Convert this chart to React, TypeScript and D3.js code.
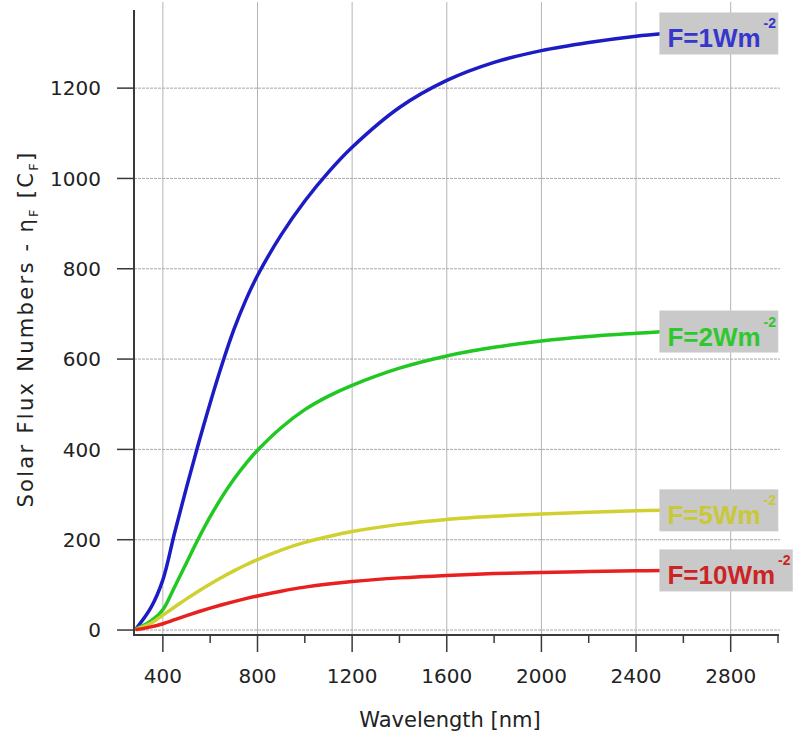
import React, { useEffect, useRef } from "react";
import * as d3 from "d3";

const wavelengths = [290, 350, 400, 450, 500, 550, 600, 650, 700, 750, 800, 900, 1000, 1100, 1200, 1400, 1600, 1800, 2000, 2200, 2400, 2520];
const fluxF1 = [5, 50, 111, 216, 316, 412, 503, 588, 665, 730, 785, 875, 950, 1014, 1069, 1157, 1217, 1257, 1283, 1301, 1315, 1321];
const fluxF2 = [3, 20, 45, 96, 149, 202, 251, 295, 334, 368, 398, 448, 488, 518, 542, 580, 607, 626, 640, 650, 657, 661];
const fluxF5 = [2, 15, 33, 51, 69, 86, 102, 117, 131, 144, 156, 177, 194, 207, 218, 234, 245, 252, 257, 261, 264, 265];
const fluxF10 = [1, 7, 14, 23, 32, 40.5, 48.5, 56, 63, 69.5, 75.5, 86, 95, 102, 107.5, 115.5, 121, 125, 127.5, 129.5, 131, 132];

const seriesLabels = ["F=1Wm", "F=2Wm", "F=5Wm", "F=10Wm"];
const seriesSup = "-2";
const xTicks = [400, 800, 1200, 1600, 2000, 2400, 2800];
const xMinorTicks = [600, 1000, 1400, 1800, 2200, 2600, 3000];
const yTicks = [0, 200, 400, 600, 800, 1000, 1200];

const lineColors = ["#1c1cc4", "#22c822", "#d0d030", "#e82020"];
const textColors = ["#3636cc", "#2ec82e", "#c8c838", "#cc2424"];

export default function App() {
  const ref = useRef<SVGSVGElement>(null);

  useEffect(() => {
    const svg = d3.select(ref.current);
    svg.selectAll("*").remove();

    const x = d3.scaleLinear().domain([278, 3000]).range([134, 778]);
    const y = d3.scaleLinear().domain([-11, 1373]).range([635, 10]);
    const font = "'DejaVu Sans', sans-serif";

    // grid
    const g = svg.append("g");
    g.selectAll("line.vg")
      .data(xTicks)
      .join("line")
      .attr("x1", (d) => x(d))
      .attr("x2", (d) => x(d))
      .attr("y1", 2)
      .attr("y2", 635)
      .attr("stroke", "#b4b4b4")
      .attr("stroke-width", 1);
    g.selectAll("line.hg")
      .data(yTicks)
      .join("line")
      .attr("x1", 134)
      .attr("x2", 780)
      .attr("y1", (d) => y(d))
      .attr("y2", (d) => y(d))
      .attr("stroke", "#a8a8a8")
      .attr("stroke-width", 1)
      .attr("stroke-dasharray", "3,1");

    // axes
    const ax = svg.append("g").attr("stroke", "#3a3a3a");
    ax.append("line").attr("x1", 134).attr("x2", 134).attr("y1", 10).attr("y2", 636).attr("stroke-width", 2);
    ax.append("line").attr("x1", 133).attr("x2", 779).attr("y1", 635).attr("y2", 635).attr("stroke-width", 2);
    ax.selectAll("line.yt")
      .data(yTicks)
      .join("line")
      .attr("x1", 117)
      .attr("x2", 134)
      .attr("y1", (d) => y(d))
      .attr("y2", (d) => y(d))
      .attr("stroke-width", 1.5);
    ax.selectAll("line.xt")
      .data(xTicks)
      .join("line")
      .attr("x1", (d) => x(d))
      .attr("x2", (d) => x(d))
      .attr("y1", 635)
      .attr("y2", 652)
      .attr("stroke-width", 1.5);
    ax.selectAll("line.xm")
      .data(xMinorTicks)
      .join("line")
      .attr("x1", (d) => x(d))
      .attr("x2", (d) => x(d))
      .attr("y1", 635)
      .attr("y2", 643)
      .attr("stroke-width", 1.5);

    svg
      .append("g")
      .selectAll("text")
      .data(yTicks)
      .join("text")
      .attr("x", 101)
      .attr("y", (d) => y(d))
      .attr("dy", "0.36em")
      .attr("text-anchor", "end")
      .attr("font-family", font)
      .attr("font-size", 20)
      .attr("fill", "#222")
      .text((d) => String(d));

    svg
      .append("g")
      .selectAll("text")
      .data(xTicks)
      .join("text")
      .attr("x", (d) => x(d))
      .attr("y", 683)
      .attr("text-anchor", "middle")
      .attr("font-family", font)
      .attr("font-size", 20)
      .attr("fill", "#222")
      .text((d) => String(d));

    // curves
    const series = [fluxF1, fluxF2, fluxF5, fluxF10];
    const line = d3
      .line<number>()
      .x((_, i) => x(wavelengths[i]))
      .y((d) => y(d))
      .curve(d3.curveCatmullRom.alpha(0.5));
    series.forEach((s, i) => {
      svg
        .append("path")
        .attr("d", line(s) as string)
        .attr("fill", "none")
        .attr("stroke", lineColors[i])
        .attr("stroke-width", 3.5)
        .attr("stroke-linecap", "round")
        .attr("stroke-linejoin", "round");
    });

    // labels
    series.forEach((s, i) => {
      const lx = x(wavelengths[wavelengths.length - 1]) - 5;
      const cy = y(s[s.length - 1]);
      const lg = svg.append("g");
      const rect = lg.append("rect").attr("fill", "#c9c9c9");
      const t = lg
        .append("text")
        .attr("x", lx + 8)
        .attr("y", cy + 14)
        .attr("font-family", "'Liberation Sans', Arial, sans-serif")
        .attr("font-weight", "bold")
        .attr("font-size", 26)
        .attr("fill", textColors[i]);
      t.append("tspan").text(seriesLabels[i]);
      t.append("tspan")
        .attr("font-size", 14)
        .attr("dx", 3)
        .attr("dy", -19)
        .text(seriesSup);
      const bb = (t.node() as SVGTextElement).getBBox();
      rect
        .attr("x", lx)
        .attr("y", cy - 21)
        .attr("width", bb.x + bb.width - lx + 2)
        .attr("height", 42);
    });

    // axis titles
    svg
      .append("text")
      .attr("x", 450)
      .attr("y", 727)
      .attr("text-anchor", "middle")
      .attr("font-family", font)
      .attr("font-size", 21)
      .attr("fill", "#222")
      .text("Wavelength [nm]");

    const yt = svg
      .append("text")
      .attr("transform", "translate(33,329) rotate(-90)")
      .attr("text-anchor", "middle")
      .attr("font-family", font)
      .attr("font-size", 21)
      .attr("letter-spacing", 2.3)
      .attr("fill", "#222");
    yt.append("tspan").text("Solar Flux Numbers -  η");
    yt.append("tspan").attr("font-size", 13).attr("dy", 5).text("F");
    yt.append("tspan").attr("dy", -5).text(" [C");
    yt.append("tspan").attr("font-size", 13).attr("dy", 5).text("F");
    yt.append("tspan").attr("dy", -5).text("]");
  }, []);

  return (
    <svg
      ref={ref}
      width={795}
      height={742}
      style={{ position: "absolute", left: 0, top: 0, background: "#fff" }}
    />
  );
}
